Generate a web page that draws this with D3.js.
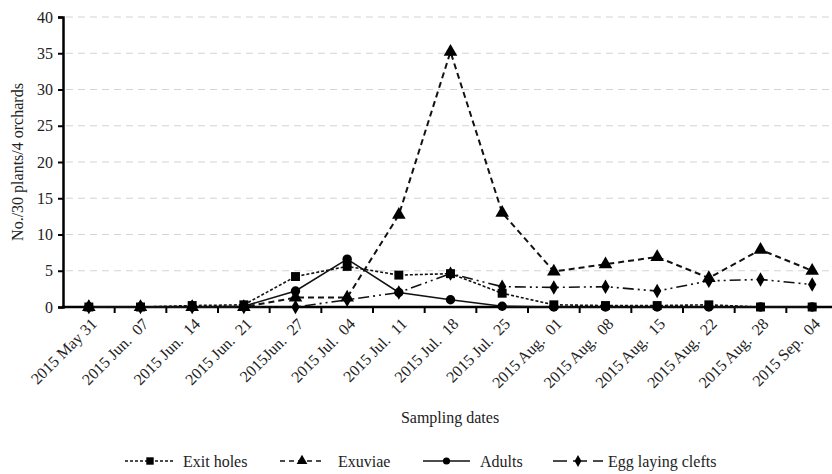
<!DOCTYPE html>
<html><head><meta charset="utf-8">
<script src="https://cdn.jsdelivr.net/npm/d3@7"></script>
<style>
body{margin:0;background:#fff;}
svg text{font-family:"Liberation Serif",serif !important;fill:#222;}
</style></head>
<body><svg id="c" width="832" height="474" font-family="Liberation Serif"></svg>
<script>
const dates = ["2015 May 31","2015 Jun.  07","2015 Jun.  14","2015 Jun.  21","2015Jun.  27","2015 Jul.  04","2015 Jul.  11","2015 Jul.  18","2015 Jul.  25","2015 Aug.  01","2015 Aug.  08","2015 Aug.  15","2015 Aug.  22","2015 Aug.  28","2015 Sep.  04"];
const exitHoles = [0,0,0.2,0.3,4.2,5.6,4.4,4.6,1.9,0.3,0.2,0.2,0.3,0,0];
const exuviae   = [0,0,0,0,1.3,1.3,12.7,35.2,13,4.9,5.9,6.9,4.0,7.9,5.0];
const adults    = [0,0,0,0.1,2.2,6.6,2.0,1.0,0.1,0,0,0,0,0,0];
const eggClefts = [0,0,0,0,0,1.0,2.0,4.6,2.8,2.7,2.8,2.2,3.6,3.8,3.1];
const yTicks = [0,5,10,15,20,25,30,35,40];
const seriesNames = ["Exit holes","Exuviae","Adults","Egg laying clefts"];

const svg = d3.select("#c");
const x = d3.scalePoint().domain(dates).range([63,838]).padding(0.5);
const y = d3.scaleLinear().domain([0,40]).range([307,17]);
const step = x.step();

// gridlines
svg.append("g").selectAll("line").data(yTicks.filter(d=>d>0)).join("line")
  .attr("x1",66).attr("x2",832).attr("y1",d=>y(d)).attr("y2",d=>y(d))
  .attr("stroke","#d4d4d4").attr("stroke-width",1.2).attr("stroke-dasharray","7,5");

// y axis
const ya = svg.append("g").attr("transform","translate(63,0)")
  .call(d3.axisLeft(y).tickValues(yTicks).tickSize(5).tickPadding(5));
ya.attr("font-family","Liberation Serif").attr("font-size",16);
ya.select(".domain").attr("stroke","#000").attr("stroke-width",2.5);
ya.selectAll(".tick line").attr("stroke","#000").attr("stroke-width",2);
ya.selectAll(".tick text").attr("fill","#222");

// x axis line and ticks
svg.append("line").attr("x1",62).attr("x2",832).attr("y1",y(0)).attr("y2",y(0))
  .attr("stroke","#000").attr("stroke-width",2.5);
svg.append("g").selectAll("line").data(d3.range(1,16)).join("line")
  .attr("x1",k=>63+k*step).attr("x2",k=>63+k*step).attr("y1",y(0)).attr("y2",y(0)+6)
  .attr("stroke","#000").attr("stroke-width",2);
svg.append("g").attr("font-size",16).selectAll("text").data(dates).join("text")
  .attr("transform",d=>`translate(${x(d)+5},${y(0)+14}) rotate(-45)`)
  .attr("text-anchor","end").attr("dy","0.35em")
  .attr("xml:space","preserve").style("white-space","pre").text(d=>d);

// titles
svg.append("text").attr("x",450).attr("y",423).attr("text-anchor","middle").attr("font-size",16).text("Sampling dates");
svg.append("text").attr("transform","translate(23,162) rotate(-90)").attr("text-anchor","middle").attr("font-size",16).text("No./30 plants/4 orchards");

const styles = [
  {data:exitHoles, dash:"3,2", w:1.6, sym:d3.symbolSquare, size:80},
  {data:exuviae, dash:"6,4", w:2, sym:d3.symbolTriangle, size:80},
  {data:adults, dash:null, w:1.6, sym:d3.symbolCircle, size:70},
  {data:eggClefts, dash:"11,4,2,4,2,4", w:1.6, sym:d3.symbolDiamond, size:60},
];
const line = d3.line().x((d,i)=>x(dates[i])).y(d=>y(d));
styles.forEach(s=>{
  svg.append("path").attr("d",line(s.data)).attr("fill","none").attr("stroke","#111")
    .attr("stroke-width",s.w).attr("stroke-dasharray",s.dash);
});
styles.forEach(s=>{
  svg.append("g").selectAll("path").data(s.data).join("path")
    .attr("d",d3.symbol(s.sym,s.size)).attr("transform",(d,i)=>`translate(${x(dates[i])},${y(d)})`)
    .attr("fill","#000");
});

// legend
const legPos = [{x1:125,x2:175,tx:183},{x1:280,x2:324,tx:338},{x1:423,x2:470,tx:480},{x1:553,x2:603,tx:608}];
const ly = 461;
const leg = [
  {dash:"3,2",w:1.4,sym:d3.symbolSquare,size:55},
  {dash:"5,4",w:1.6,sym:d3.symbolTriangle,size:50},
  {dash:null,w:1.6,sym:d3.symbolCircle,size:40},
  {dash:"14,6",w:1.6,sym:d3.symbolDiamond,size:40},
];
leg.forEach((l,i)=>{
  const p = legPos[i];
  svg.append("line").attr("x1",p.x1).attr("x2",p.x2).attr("y1",ly).attr("y2",ly)
    .attr("stroke","#111").attr("stroke-width",l.w).attr("stroke-dasharray",l.dash);
  svg.append("path").attr("d",d3.symbol(l.sym,l.size)).attr("transform",`translate(${(p.x1+p.x2)/2},${ly})`).attr("fill","#000");
  svg.append("text").attr("x",p.tx).attr("y",ly).attr("dy","0.35em").attr("font-size",16).text(seriesNames[i]);
});
</script></body></html>
